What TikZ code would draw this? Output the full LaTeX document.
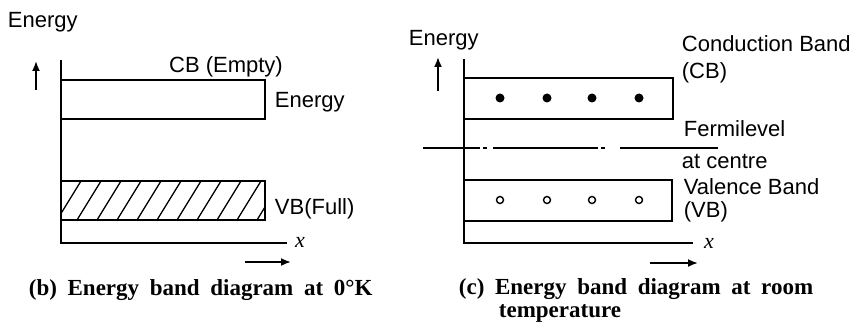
\documentclass[tikz,border=0pt]{standalone}
\usepackage{fontspec}
\setmainfont{Liberation Serif}
\setsansfont{Liberation Sans}
\newfontfamily\capfont[WordSpace=1.85]{Liberation Serif}
\usetikzlibrary{arrows.meta}
\begin{document}
\begin{tikzpicture}[x=1pt,y=-1pt, line width=1.8pt,
  lbl/.style={font=\sffamily\fontsize{22}{26}\selectfont, anchor=base west, inner sep=0pt},
  captxt/.style={font=\capfont\bfseries\fontsize{23}{27}\selectfont, anchor=base west, inner sep=0pt},
  xlbl/.style={font=\itshape\fontsize{22}{26}\selectfont, anchor=base, inner sep=0pt},
  arr/.style={-{Latex[length=10pt,width=8pt]}, line width=1.8pt},
  hatch/.style={line width=1.3pt},
  fermi/.style={line width=1.6pt}]
\useasboundingbox (0,0) rectangle (866,326);

% ---------- left diagram (b) ----------
\node[lbl] (e1) at (7,28) {Energy};
\coordinate (u1s) at (36,90);
\coordinate (u1e) at (36,61);
\draw[arr] (u1s) -- (u1e);
\coordinate (o1) at (61,243);
\coordinate (y1) at (61,60);
\coordinate (x1) at (287,243);
\draw (y1) -- (o1) -- (x1);
\draw (61,80) rectangle (265,119);
\begin{scope}
  \clip (61,181) rectangle (265,220);
  \foreach \k in {0,...,11} {
    \draw[hatch] (37+\k*20,220) -- ++(24,-39);
  }
\end{scope}
\draw (61,181) rectangle (265,220);
\node[lbl, anchor=base] (cb1) at (226,73) {CB (Empty)};
\node[lbl] (en1) at (274,107) {Energy};
\node[lbl] (vb1) at (274,214) {VB(Full)};
\node[xlbl] (xl1) at (300,247) {x};
\coordinate (r1s) at (245,262);
\coordinate (r1e) at (291,262);
\draw[arr] (r1s) -- (r1e);
\node[captxt] (c1) at (28,295) {(b) Energy band diagram at 0°K};

% ---------- right diagram (c) ----------
\node[lbl] (e2) at (408,46) {Energy};
\coordinate (u2s) at (438,91);
\coordinate (u2e) at (438,57);
\draw[arr] (u2s) -- (u2e);
\coordinate (o2) at (464,243);
\coordinate (y2) at (464,59);
\coordinate (x2) at (693,243);
\draw (y2) -- (o2) -- (x2);
\draw (464,78) rectangle (673,119);
\foreach \px in {500,547,592,639} {
  \fill (\px,98) circle[radius=4.5pt];
  \draw[line width=1.4pt] (\px,200) circle[radius=3.5pt];
}
\draw (464,180) rectangle (672,221);
\draw[fermi] (423,148) -- (480,148);
\draw[fermi] (483,148) -- (487,148);
\draw[fermi] (493,148) -- (598,148);
\draw[fermi] (601,148) -- (605,148);
\draw[fermi] (620,148) -- (718,148);
\node[lbl] (l1) at (681,52) {Conduction Band};
\node[lbl] (l2) at (681,79) {(CB)};
\node[lbl] (l3) at (683,136) {Fermilevel};
\node[lbl] (l4) at (681,168) {at centre};
\node[lbl] (l5) at (683,194) {Valence Band};
\node[lbl] (l6) at (683,217) {(VB)};
\node[xlbl] (xl2) at (709,248) {x};
\coordinate (r2s) at (650,263);
\coordinate (r2e) at (698,263);
\draw[arr] (r2s) -- (r2e);
\node[captxt] (c2a) at (458,294) {(c) Energy band diagram at room};
\node[captxt] (c2b) at (498,317) {temperature};
\end{tikzpicture}
\end{document}
